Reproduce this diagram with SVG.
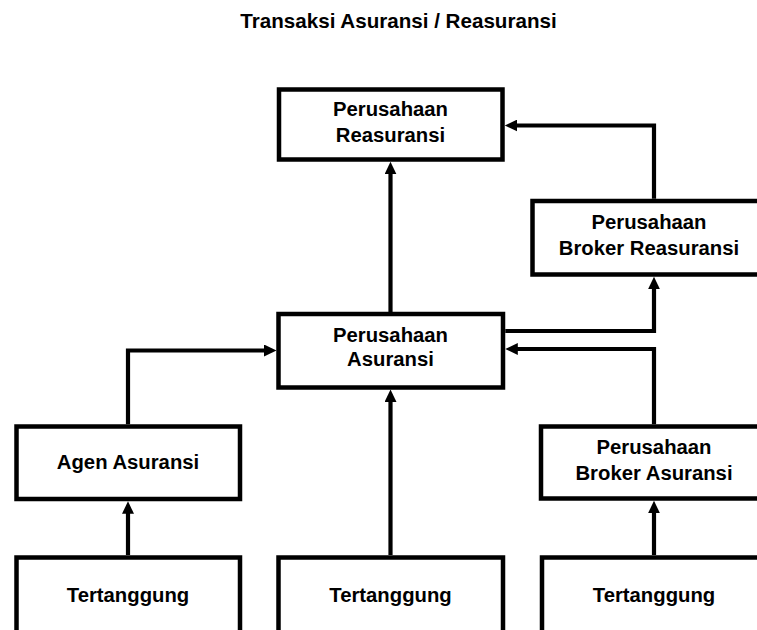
<svg xmlns="http://www.w3.org/2000/svg" width="757" height="630" viewBox="0 0 757 630">
<style>
.box{fill:#fff;stroke:#000;stroke-width:4.5}
.t{font-family:"Liberation Sans",Arial,sans-serif;font-weight:bold;font-size:20.3px;fill:#000;text-anchor:middle}
.title{font-size:20.6px}
.c{fill:none;stroke:#000;stroke-width:4.2;stroke-linejoin:miter}
</style>
<defs>
<marker id="arr" markerWidth="13" markerHeight="12" refX="4" refY="6" orient="auto" markerUnits="userSpaceOnUse">
<path d="M0,0 L12.5,6 L0,12 z" fill="#000"/>
</marker>
</defs>
<rect width="757" height="630" fill="#fff"/>
<text class="t title" x="398.5" y="27.5">Transaksi Asuransi / Reasuransi</text>

<g id="connectors">
<path class="c" d="M390.5,312 V170.3" marker-end="url(#arr)"/>
<path class="c" d="M390.5,555 V398" marker-end="url(#arr)"/>
<path class="c" d="M128,555 V509.8" marker-end="url(#arr)"/>
<path class="c" d="M128,424.3 V350.5 H268" marker-end="url(#arr)"/>
<path class="c" d="M654,555 V509.3" marker-end="url(#arr)"/>
<path class="c" d="M654,424.3 V349 H513.8" marker-end="url(#arr)"/>
<path class="c" d="M505.3,331 H654 V285.3" marker-end="url(#arr)"/>
<path class="c" d="M654,198.8 V125.5 H513.3" marker-end="url(#arr)"/>
</g>

<g id="reasuransi">
<rect class="box" x="279" y="89.5" width="223.5" height="70"/>
<text class="t" x="390.5" y="115.5">Perusahaan</text>
<text class="t" x="390.5" y="141.5">Reasuransi</text>
</g>
<g id="broker-reasuransi">
<rect class="box" x="532.5" y="201" width="240" height="73.5"/>
<text class="t" x="649" y="228.5">Perusahaan</text>
<text class="t" x="649" y="254.5">Broker Reasuransi</text>
</g>
<g id="asuransi">
<rect class="box" x="278.5" y="314" width="224.5" height="73.5"/>
<text class="t" x="390.5" y="341.5">Perusahaan</text>
<text class="t" x="390.5" y="366">Asuransi</text>
</g>
<g id="agen">
<rect class="box" x="16.5" y="426.5" width="223.5" height="72.5"/>
<text class="t" x="128" y="468.5">Agen Asuransi</text>
</g>
<g id="broker-asuransi">
<rect class="box" x="541" y="426.5" width="240" height="72"/>
<text class="t" x="654" y="454">Perusahaan</text>
<text class="t" x="654" y="479.5">Broker Asuransi</text>
</g>
<g id="tertanggung-1">
<rect class="box" x="16.5" y="557.5" width="223.5" height="100"/>
<text class="t" x="128" y="601.5">Tertanggung</text>
</g>
<g id="tertanggung-2">
<rect class="box" x="278.5" y="557.5" width="224.5" height="100"/>
<text class="t" x="390.5" y="601.5">Tertanggung</text>
</g>
<g id="tertanggung-3">
<rect class="box" x="542" y="557.5" width="240" height="100"/>
<text class="t" x="654" y="601.5">Tertanggung</text>
</g>
</svg>
